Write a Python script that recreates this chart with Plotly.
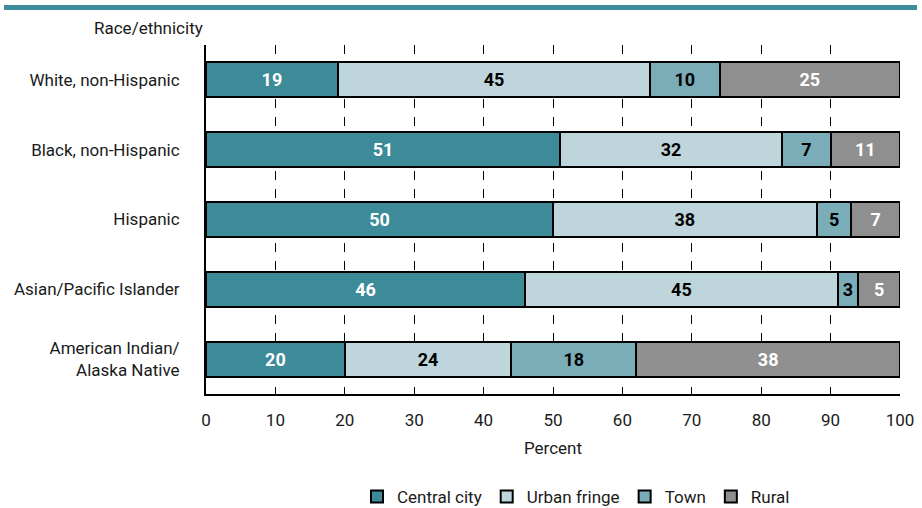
import plotly.graph_objects as go

categories = ["White, non-Hispanic", "Black, non-Hispanic", "Hispanic",
              "Asian/Pacific Islander", "American Indian/<br>Alaska Native"]
series_names = ["Central city", "Urban fringe", "Town", "Rural"]
# bar lengths (percent)
central_city = [19, 51, 50, 46, 20]
urban_fringe = [45, 32, 38, 45, 24]
town = [10, 7, 5, 3, 18]
rural = [26, 10, 7, 6, 38]
# labels printed on the bars
central_city_lbl = [19, 51, 50, 46, 20]
urban_fringe_lbl = [45, 32, 38, 45, 24]
town_lbl = [10, 7, 5, 3, 18]
rural_lbl = [25, 11, 7, 5, 38]
x_ticks = [0, 10, 20, 30, 40, 50, 60, 70, 80, 90, 100]

values = [central_city, urban_fringe, town, rural]
labels = [central_city_lbl, urban_fringe_lbl, town_lbl, rural_lbl]
colors = ["#3d8a99", "#bed5db", "#7aadb8", "#8f8f8f"]
text_colors = ["white", "black", "black", "white"]

FONT = "Roboto, Liberation Sans, sans-serif"

fig = go.Figure()
ypos = list(range(len(categories)))
for name, v, lab, c, tc in zip(series_names, values, labels, colors, text_colors):
    fig.add_trace(go.Bar(
        y=ypos, x=v, name=name, orientation="h",
        marker=dict(color=c, line=dict(color="black", width=2)),
        text=[str(t) for t in lab], textposition="inside",
        insidetextanchor="middle",
        textfont=dict(color=tc, size=18, family=FONT, weight="bold"),
        width=0.5, hoverinfo="skip",
    ))

W, H = 922, 508
ml, mr, mt, mb = 206, 22, 45, 114
pw, ph = W - ml - mr, H - mt - mb
axis_y = H - mb

fig.update_layout(
    barmode="stack", width=W, height=H,
    margin=dict(l=ml, r=mr, t=mt, b=mb, autoexpand=False),
    plot_bgcolor="white", paper_bgcolor="white",
    font=dict(family=FONT, size=17, color="#1a1a1a"),
    uniformtext=dict(minsize=18, mode="show"),
    xaxis=dict(range=[0, 100], tickvals=x_ticks, ticks="inside", ticklen=6,
               tickcolor="black", showline=True, linecolor="black", linewidth=2,
               showgrid=True, gridcolor="black", griddash="dash", gridwidth=1,
               zeroline=False, automargin=False, ticklabelstandoff=10,
               title=dict(text="Percent", standoff=13, font=dict(size=17, family=FONT)),
               tickfont=dict(size=17, family=FONT)),
    yaxis=dict(range=[4.5, -0.5], tickvals=ypos, ticktext=categories,
               showline=True, linecolor="black", linewidth=2, ticks="",
               showgrid=False, zeroline=False, ticklabelstandoff=21,
               automargin=False, tickfont=dict(size=17, family=FONT)),
    legend=dict(orientation="h", x=(576 - ml) / pw, xanchor="center",
                y=(axis_y - 497) / ph, yanchor="middle",
                font=dict(size=17, family=FONT), traceorder="normal",
                itemwidth=30),
    showlegend=True,
)
fig.add_shape(type="line", xref="paper", yref="paper",
              x0=(4 - ml) / pw, x1=(917 - ml) / pw,
              y0=(axis_y - 7.5) / ph, y1=(axis_y - 7.5) / ph,
              line=dict(color="#3f8c9c", width=5))
fig.add_annotation(text="Race/ethnicity", xref="paper", yref="paper",
                   x=-1 / pw, y=(axis_y - 28) / ph, xanchor="right", yanchor="middle",
                   showarrow=False, font=dict(size=17, family=FONT))
fig.write_html("out.html", config={"displayModeBar": False},
               post_script="document.body.style.margin='0';")
